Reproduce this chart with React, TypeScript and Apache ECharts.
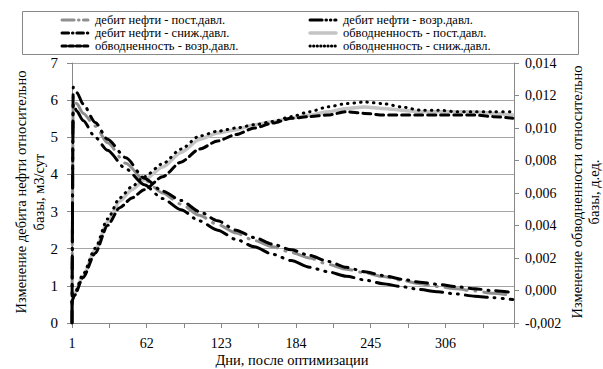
import React, { useEffect, useRef } from "react";
import * as echarts from "echarts";

const oilDays = [1, 2, 5, 10, 20, 30, 45, 60, 75, 90, 105, 120, 135, 150, 165, 180, 195, 210, 225, 240, 255, 270, 285, 300, 315, 330, 345, 361];
const oilConst = [0, 6.1, 5.9, 5.65, 5.3, 4.85, 4.3, 3.85, 3.5, 3.2, 2.9, 2.65, 2.42, 2.22, 2.05, 1.9, 1.75, 1.58, 1.45, 1.35, 1.25, 1.15, 1.06, 0.98, 0.92, 0.86, 0.8, 0.74];
const oilDecr = [0, 6.35, 6.2, 5.9, 5.4, 4.95, 4.45, 3.9, 3.55, 3.3, 3.0, 2.75, 2.5, 2.3, 2.12, 1.97, 1.82, 1.66, 1.5, 1.38, 1.28, 1.18, 1.1, 1.04, 0.98, 0.92, 0.87, 0.82];
const oilIncr = [0, 5.9, 5.7, 5.45, 5.0, 4.65, 4.15, 3.72, 3.35, 3.05, 2.75, 2.5, 2.25, 2.05, 1.85, 1.68, 1.5, 1.38, 1.26, 1.16, 1.06, 0.98, 0.9, 0.84, 0.78, 0.72, 0.68, 0.63];

const waterDays = [1, 3, 10, 20, 30, 40, 50, 60, 75, 90, 105, 120, 135, 150, 165, 180, 195, 210, 225, 240, 255, 270, 285, 300, 315, 330, 345, 361];
const waterConst = [-0.0007, -0.0002, 0.0009, 0.0025, 0.0042, 0.0055, 0.0062, 0.0068, 0.0076, 0.0085, 0.0093, 0.0097, 0.0099, 0.0102, 0.0104, 0.0106, 0.0108, 0.011, 0.0112, 0.0113, 0.0112, 0.0111, 0.011, 0.011, 0.011, 0.011, 0.0109, 0.0108];
const waterIncr = [-0.0007, -0.0003, 0.0008, 0.0023, 0.004, 0.0051, 0.0057, 0.0062, 0.007, 0.0079, 0.0087, 0.0092, 0.0096, 0.01, 0.0103, 0.0106, 0.0107, 0.0108, 0.011, 0.0109, 0.0108, 0.0108, 0.0108, 0.0108, 0.0108, 0.0108, 0.0107, 0.0106];
const waterDecr = [-0.0007, -0.0002, 0.001, 0.0026, 0.0044, 0.0057, 0.0064, 0.007, 0.0078, 0.0087, 0.0095, 0.0098, 0.01, 0.0102, 0.0104, 0.0107, 0.011, 0.0113, 0.0115, 0.0116, 0.0115, 0.0113, 0.0111, 0.0111, 0.011, 0.011, 0.011, 0.011];

const seriesNames = [
  "дебит нефти - пост.давл.",
  "дебит нефти - возр.давл.",
  "дебит нефти - сниж.давл.",
  "обводненность - пост.давл.",
  "обводненность - возр.давл.",
  "обводненность - сниж.давл.",
];

const leftTitle = ["Изменение дебита нефти относительно", "базы, м3/сут"];
const rightTitle = ["Изменение обводненности относительно", "базы, д.ед."];
const xTitle = "Дни, после оптимизации";

const FONT = '"Liberation Serif", "DejaVu Serif", "Times New Roman", Times, serif';

const styles: any[] = [
  { color: "#8f8f8f", width: 3, type: [22, 8, 1, 8], cap: "round" },
  { color: "#000", width: 3, type: [22, 7, 1, 7, 1, 7], cap: "round" },
  { color: "#000", width: 3, type: [12, 7, 1, 7], cap: "round" },
  { color: "#c4c4c4", width: 3.5, type: "solid", cap: "round" },
  { color: "#000", width: 3, type: [8, 5], cap: "round" },
  { color: "#000", width: 3, type: [0.5, 6], cap: "round" },
];

function pairs(days: number[], vals: number[]) {
  return days.map((d, i) => [d - 1, vals[i]]);
}

export default function App() {
  const ref = useRef<HTMLDivElement>(null);
  useEffect(() => {
    if (!ref.current) return;
    const chart = echarts.init(ref.current, null, { renderer: "svg" });
    const datas = [
      { d: pairs(oilDays, oilConst), y: 0 },
      { d: pairs(oilDays, oilIncr), y: 0 },
      { d: pairs(oilDays, oilDecr), y: 0 },
      { d: pairs(waterDays, waterConst), y: 1 },
      { d: pairs(waterDays, waterIncr), y: 1 },
      { d: pairs(waterDays, waterDecr), y: 1 },
    ];
    const order = [3, 0, 4, 5, 1, 2];
    const series = order.map((i) => ({
      name: seriesNames[i],
      type: "line",
      yAxisIndex: datas[i].y,
      data: datas[i].d,
      showSymbol: false,
      smooth: 0.25,
      smoothMonotone: "x",
      lineStyle: {
        color: styles[i].color,
        width: styles[i].width,
        type: styles[i].type,
        cap: styles[i].cap,
        join: "round",
      },
    }));

    const legendPos = [
      [62, 20],
      [310, 20],
      [62, 33],
      [310, 33],
      [62, 46],
      [310, 46],
    ];
    const legendGraphics: any[] = [];
    seriesNames.forEach((name, k) => {
      const [lx, ly] = legendPos[k];
      const st = styles[k];
      legendGraphics.push({
        type: "line",
        shape: { x1: lx, y1: ly, x2: lx + 26, y2: ly },
        style: {
          stroke: st.color,
          lineWidth: st.width,
          lineDash: Array.isArray(st.type) ? st.type.map((v: number) => v * 0.55) : null,
          lineCap: st.cap,
        },
      });
      legendGraphics.push({
        type: "text",
        x: lx + 33,
        y: ly,
        style: {
          text: name,
          font: `12.5px ${FONT}`,
          fill: "#000",
          verticalAlign: "middle",
        },
      });
    });

    const rotText = (txt: string, x: number, y: number) => ({
      type: "text",
      x,
      y,
      rotation: Math.PI / 2,
      style: { text: txt, font: `14.5px ${FONT}`, fill: "#000", align: "center", verticalAlign: "middle" },
    });

    chart.setOption({
      animation: false,
      backgroundColor: "#fff",
      textStyle: { fontFamily: FONT },
      grid: { left: 72, right: 89, top: 63, bottom: 46, containLabel: false },
      xAxis: {
        type: "value",
        min: 0,
        max: 361,
        interval: 30.5,
        axisLine: { show: true, lineStyle: { color: "#888", width: 1 } },
        axisTick: { show: true, length: 5, lineStyle: { color: "#888" } },
        splitLine: { show: false },
        axisLabel: {
          margin: 13,
          color: "#000",
          fontFamily: FONT,
          fontSize: 14,
          showMaxLabel: true,
          formatter: (v: number) => {
            const r = Math.round(v);
            return Math.abs(v - r) < 1e-6 && r % 61 === 0 && r <= 305 ? String(r + 1) : "";
          },
        },
      },
      yAxis: [
        {
          type: "value",
          min: 0,
          max: 7,
          interval: 1,
          position: "left",
          axisLine: { show: true, lineStyle: { color: "#888", width: 1 } },
          axisTick: { show: true, length: 5, lineStyle: { color: "#888" } },
          splitLine: { show: true, lineStyle: { color: "#a6a6a6", width: 1 } },
          axisLabel: { margin: 14, color: "#000", fontFamily: FONT, fontSize: 15 },
        },
        {
          type: "value",
          min: -0.002,
          max: 0.014,
          interval: 0.002,
          position: "right",
          axisLine: { show: true, lineStyle: { color: "#888", width: 1 } },
          axisTick: { show: true, length: 5, inside: false, lineStyle: { color: "#888" } },
          splitLine: { show: false },
          axisLabel: {
            margin: 11,
            color: "#000",
            fontFamily: FONT,
            fontSize: 14,
            formatter: (v: number) => {
              const s = Math.abs(v).toFixed(3).replace(".", ",");
              return v < -1e-9 ? "-" + s : s;
            },
          },
        },
      ],
      series,
      graphic: [
        {
          type: "rect",
          shape: { x: 22.5, y: 11.5, width: 556, height: 43 },
          style: { fill: "none", stroke: "#888", lineWidth: 1 },
        },
        ...legendGraphics,
        rotText(leftTitle[0], 21, 192),
        rotText(leftTitle[1], 39, 192),
        rotText(rightTitle[0], 577, 192),
        rotText(rightTitle[1], 594, 192),
        {
          type: "text",
          x: 292,
          y: 360,
          style: { text: xTitle, font: `14.5px ${FONT}`, fill: "#000", align: "center", verticalAlign: "middle" },
        },
      ],
    });
    return () => chart.dispose();
  }, []);
  return <div ref={ref} style={{ width: 603, height: 369, position: "absolute", left: 0, top: 0 }} />;
}
